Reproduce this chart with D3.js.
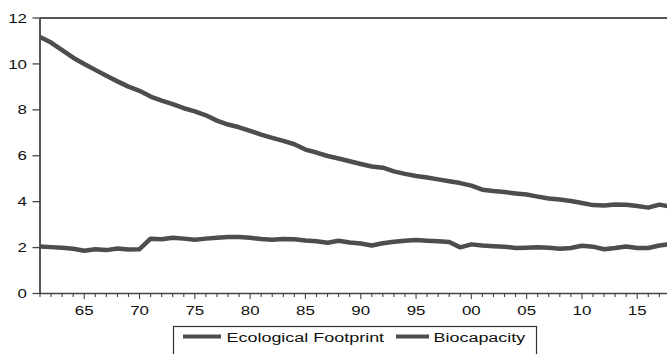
<!DOCTYPE html>
<html>
<head>
<meta charset="utf-8">
<script src="https://cdn.jsdelivr.net/npm/d3@7"></script>
<style>
html,body{margin:0;padding:0;background:#fff;}
svg{display:block;}
text{font-family:"Liberation Sans",Arial,sans-serif;fill:#111;}
</style>
</head>
<body>
<svg id="chart" width="667" height="354"></svg>
<script>
const years = d3.range(1961, 2019);
const seriesNames = ["Ecological Footprint", "Biocapacity"];
const upperSeries = [11.17,10.93,10.6,10.27,10.0,9.74,9.48,9.24,9.01,8.83,8.58,8.4,8.25,8.07,7.93,7.76,7.53,7.36,7.24,
  7.08,6.92,6.78,6.65,6.5,6.27,6.14,5.99,5.88,5.76,5.64,5.53,5.48,5.32,5.21,5.12,5.05,4.97,4.89,4.81,
  4.7,4.52,4.46,4.42,4.36,4.31,4.22,4.14,4.09,4.03,3.94,3.85,3.83,3.88,3.87,3.81,3.74,3.87,3.79];
const lowerSeries = [2.05,2.02,1.99,1.95,1.86,1.93,1.89,1.96,1.92,1.93,2.39,2.36,2.43,2.39,2.34,2.39,2.43,2.46,2.46,
  2.43,2.37,2.34,2.37,2.36,2.31,2.28,2.21,2.3,2.22,2.18,2.09,2.19,2.25,2.3,2.33,2.3,2.28,2.24,2.01,
  2.14,2.09,2.06,2.04,1.98,1.99,2.01,1.99,1.95,1.98,2.08,2.04,1.93,1.98,2.05,1.98,1.98,2.09,2.15];
const xTickYears = d3.range(1965, 2016, 5);
const xTickLabels = ["65","70","75","80","85","90","95","00","05","10","15"];
const yTicks = [0,2,4,6,8,10,12];

const svg = d3.select("#chart");
const W = 667, H = 354;
const mLeft = 40, mTop = 18, mBottom = 293.5;
const x = d3.scaleLinear().domain([1961, 2018]).range([mLeft, 670.4]);
const y = d3.scaleLinear().domain([0, 12]).range([mBottom, mTop]);
const SX = 1.3;
const axisColor = "#444";

// frame
svg.append("line").attr("x1", mLeft).attr("x2", W + 5).attr("y1", mTop).attr("y2", mTop)
  .attr("stroke", "#555").attr("stroke-width", 2);
svg.append("line").attr("x1", mLeft).attr("x2", W + 5).attr("y1", mBottom).attr("y2", mBottom)
  .attr("stroke", axisColor).attr("stroke-width", 1.5);
svg.append("line").attr("x1", mLeft).attr("x2", mLeft).attr("y1", mTop).attr("y2", mBottom)
  .attr("stroke", axisColor).attr("stroke-width", 1.8);

// y ticks & labels
yTicks.forEach(v => {
  svg.append("line").attr("x1", 32.5).attr("x2", mLeft).attr("y1", y(v)).attr("y2", y(v))
    .attr("stroke", axisColor).attr("stroke-width", 1.3);
  svg.append("text").attr("transform", `translate(27,${y(v) + 4.6}) scale(${SX},1)`)
    .attr("text-anchor", "end").attr("font-size", 13).text(v);
});

// x ticks (annual minor, 5-year major)
years.forEach(yr => {
  const major = yr % 5 === 0;
  svg.append("line").attr("x1", x(yr)).attr("x2", x(yr)).attr("y1", mBottom)
    .attr("y2", mBottom + (major ? 5.5 : 3.5)).attr("stroke", axisColor).attr("stroke-width", 1.1);
});
xTickYears.forEach((yr, i) => {
  svg.append("text").attr("transform", `translate(${x(yr)},315) scale(${SX},1)`)
    .attr("text-anchor", "middle").attr("font-size", 13).text(xTickLabels[i]);
});

// lines
const line = d3.line().x((d, i) => x(years[i])).y(d => y(d)).curve(d3.curveLinear);
const lineColor = "#4d4d4d";
[upperSeries, lowerSeries].forEach(s => {
  svg.append("path").datum(s).attr("d", line).attr("fill", "none")
    .attr("stroke", lineColor).attr("stroke-width", 4.5)
    .attr("stroke-linejoin", "round").attr("stroke-linecap", "butt");
});

// legend
svg.append("rect").attr("x", 173.5).attr("y", 326.5).attr("width", 363).attr("height", 40)
  .attr("fill", "#fff").attr("stroke", "#333").attr("stroke-width", 1.2);
const legendItems = [
  {x1: 183, x2: 221, tx: 226.5, name: seriesNames[0]},
  {x1: 396, x2: 429, tx: 433.5, name: seriesNames[1]}
];
legendItems.forEach(it => {
  svg.append("line").attr("x1", it.x1).attr("x2", it.x2).attr("y1", 336.5).attr("y2", 336.5)
    .attr("stroke", lineColor).attr("stroke-width", 4);
  svg.append("text").attr("transform", `translate(${it.tx},341.5) scale(1.33,1)`)
    .attr("font-size", 13.5).text(it.name);
});
</script>
</body>
</html>
